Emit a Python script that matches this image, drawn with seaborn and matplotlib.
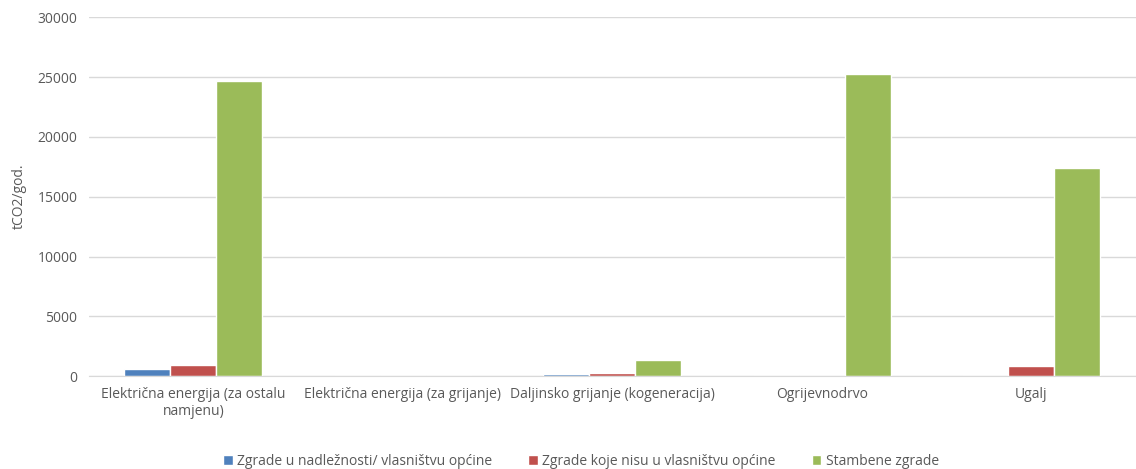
import pandas as pd
import matplotlib.pyplot as plt
import seaborn as sns

# Podaci
kategorije = ['Električna energija (za ostalu\nnamjenu)',
              'Električna energija (za grijanje)',
              'Daljinsko grijanje (kogeneracija)',
              'Ogrijevnodrvo',
              'Ugalj']
serije = ['Zgrade u nadležnosti/ vlasništvu općine',
          'Zgrade koje nisu u vlasništvu općine',
          'Stambene zgrade']
opcina = [560, 15, 190, 20, 50]
ostale = [950, 20, 250, 30, 860]
stambene = [24700, 25, 1340, 25250, 17400]
boje = ['#4F81BD', '#C0504D', '#9BBB59']

df = pd.DataFrame({
    'Kategorija': kategorije * 3,
    'Serija': [serije[0]] * 5 + [serije[1]] * 5 + [serije[2]] * 5,
    'Vrijednost': opcina + ostale + stambene,
})

sns.set_style('white')
plt.rcParams['font.family'] = ['Open Sans', 'DejaVu Sans']

fig = plt.figure(figsize=(11.36, 4.69), dpi=100)
ax = fig.add_axes([0.078, 0.198, 0.922, 0.765])

sns.barplot(data=df, x='Kategorija', y='Vrijednost', hue='Serija',
            palette=boje, width=0.66, saturation=1, ax=ax)

ax.set_ylim(0, 30000)
ax.set_yticks(range(0, 30001, 5000))
ax.yaxis.grid(True, color='#D9D9D9', linewidth=1)
ax.set_axisbelow(True)
for s in ['top', 'right', 'left']:
    ax.spines[s].set_visible(False)
ax.spines['bottom'].set_color('#D9D9D9')
ax.tick_params(axis='both', length=0, labelsize=10, colors='#595959', pad=8)
ax.set_xlabel('')
ax.set_ylabel('tCO2/god.', fontsize=10, color='#595959', labelpad=8)

ax.legend(loc='center', bbox_to_anchor=(0.47, -0.237), ncol=3, frameon=False,
          fontsize=10, handlelength=0.7, handleheight=0.7, handletextpad=0.3,
          columnspacing=2.6, labelcolor='#595959')

fig.savefig('out.png', dpi=100)
